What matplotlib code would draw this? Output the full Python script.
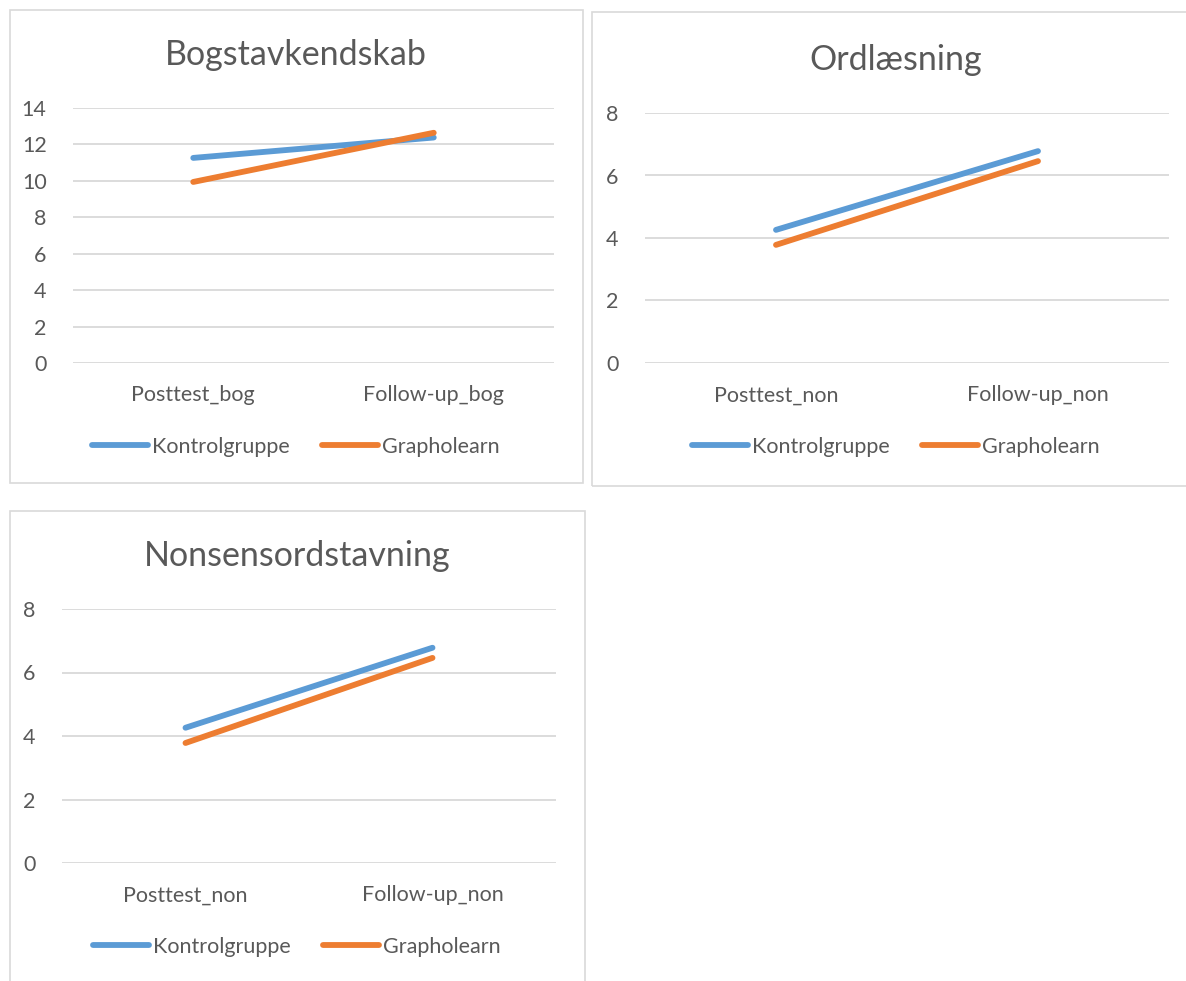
import matplotlib
matplotlib.use("Agg")
import matplotlib.pyplot as plt
from matplotlib.patches import Rectangle

plt.rcParams['font.family'] = ['Lato', 'DejaVu Sans']

W, H = 1186, 981

# data
series = ["Kontrolgruppe", "Grapholearn"]
colors = ["#5B9BD5", "#ED7D31"]

bog_cats = ["Posttest_bog", "Follow-up_bog"]
bog_kontrol = [11.26, 12.38]
bog_grapho = [9.94, 12.64]

ord_cats = ["Posttest_non", "Follow-up_non"]
ord_kontrol = [4.26, 6.78]
ord_grapho = [3.78, 6.46]

non_cats = ["Posttest_non", "Follow-up_non"]
non_kontrol = [4.26, 6.78]
non_grapho = [3.78, 6.46]

text_col = "#595959"
grid_col = "#d9d9d9"

fig = plt.figure(figsize=(W / 100, H / 100), dpi=100)
fig.patch.set_facecolor("white")


def px_axes(left, right, top, bottom):
    return fig.add_axes([left / W, 1 - bottom / H, (right - left) / W, (bottom - top) / H])


def box(x0, y0, x1, y1):
    fig.patches.append(Rectangle((x0 / W, 1 - y1 / H), (x1 - x0) / W, (y1 - y0) / H,
                                 transform=fig.transFigure, fill=False,
                                 edgecolor=grid_col, linewidth=1.2))


def panel(ax, title, cats, k_vals, g_vals, ymax, title_xy, legend_y):
    x = list(range(len(cats)))
    for vals, name, c in zip([k_vals, g_vals], series, colors):
        ax.plot(x, vals, color=c, linewidth=4.2, solid_capstyle="round", label=name)
    ax.set_xlim(-0.5, len(cats) - 0.5)
    ax.set_ylim(0, ymax)
    ax.set_yticks(range(0, ymax + 1, 2))
    ax.set_xticks(x)
    ax.set_xticklabels(cats)
    ax.grid(axis="y", color=grid_col, linewidth=1.3)
    ax.set_axisbelow(True)
    for s in ax.spines.values():
        s.set_visible(False)
    ax.tick_params(axis="both", length=0, labelsize=15.5, colors=text_col)
    ax.tick_params(axis="y", pad=19)
    ax.tick_params(axis="x", pad=16)
    fig.text(title_xy[0] / W, 1 - title_xy[1] / H, title, ha="center", va="center",
             fontsize=24.5, color=text_col)
    leg = ax.legend(loc="center", bbox_to_anchor=(title_xy[0] / W, 1 - legend_y / H),
                    bbox_transform=fig.transFigure, ncol=2, frameon=False,
                    fontsize=15.5, handlelength=2.6, handletextpad=0.2,
                    columnspacing=1.5)
    for t in leg.get_texts():
        t.set_color(text_col)


ax1 = px_axes(73, 554, 108, 363)
panel(ax1, "Bogstavkendskab", bog_cats, bog_kontrol, bog_grapho, 14, (296, 55), 447)

ax2 = px_axes(645, 1169, 113, 363)
panel(ax2, "Ordlæsning", ord_cats, ord_kontrol, ord_grapho, 8, (896, 60), 447)

ax3 = px_axes(62, 556, 609, 863)
panel(ax3, "Nonsensordstavning", non_cats, non_kontrol, non_grapho, 8, (297, 556), 947)

box(10, 10, 583, 483)
box(592, 12, 1190, 486)
box(10, 511, 585, 990)

fig.savefig("out.png", dpi=100, facecolor="white")
